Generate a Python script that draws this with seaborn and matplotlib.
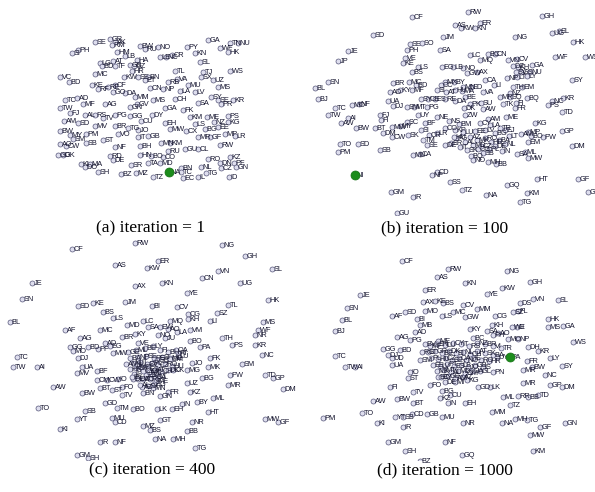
import matplotlib
matplotlib.use("Agg")
import matplotlib.pyplot as plt
import seaborn as sns
import pandas as pd

# ---------------- data (positions, panel pixel units) ----------------
labels_a = ("SE GR AK RM PH SI HM BW NO RU "
            "PY GA TN NU WF HK LB HA LE NC "
            "CR KN AT TF LG BD GB GZ SL HR "
            "TL WS TJ SX UZ VC MC KW SE BN "
            "ET VA MU RB KE BD CN NP LA LV "
            "MS RF RE CF GO DA MM CH SY SE "
            "KR MS GV AG MF TC AD TW GN SA "
            "PR GA FJ AL RS TV PG GG FK ME "
            "PS KM DY AM SD CU EH NZ KG EE "
            "LS MV BR TG JO MW CX BG BW MY "
            "PM VO GB IT MR GF MP LR SM SB "
            "ST AO CW MN KM BH RW CL GU NF "
            "RU GD GK HN BO CO DE RD RO KZ "
            "DN PF KI MA DO MD SR TA SH BN "
            "TC EC NL TG CZ GN IL ID BZ MZ TZ").split()
x_a = [95, 110, 115, 112, 78, 72, 117, 140, 158, 145,
       187, 208, 230, 238, 220, 228, 125, 137, 160, 166,
       172, 195, 113, 115, 100, 102, 130, 134, 200, 132,
       175, 230, 203, 201, 213, 60, 95, 124, 138, 148,
       145, 177, 188, 168, 92, 69, 150, 163, 180, 195,
       218, 98, 108, 115, 113, 125, 135, 175, 211, 218,
       233, 153, 137, 105, 83, 65, 77, 60, 130, 198,
       221, 165, 70, 85, 95, 103, 115, 130, 183, 207,
       228, 190, 152, 64, 78, 141, 165, 214, 228, 218,
       195, 95, 115, 128, 138, 170, 186, 205, 60, 70,
       86, 118, 148, 138, 198, 210, 225, 235, 73, 86,
       103, 60, 66, 161, 170, 140, 220, 198, 185, 115,
       168, 58, 63, 140, 151, 163, 113, 110, 208, 230,
       220, 234, 81, 90, 85, 160, 131, 148, 98, 181,
       181, 183, 201, 206, 221, 236, 198, 229, 121, 136, 153]
y_a = [42, 39, 42, 45, 50, 53, 52, 46, 47, 49,
       47, 40, 43, 43, 48, 52, 56, 60, 57, 57,
       55, 53, 61, 66, 63, 66, 65, 66, 62, 71,
       71, 71, 72, 77, 80, 77, 74, 77, 77, 77,
       80, 79, 85, 82, 85, 82, 88, 89, 91, 92,
       87, 89, 87, 85, 92, 93, 97, 99, 97, 100,
       100, 100, 104, 104, 104, 100, 98, 108, 107, 103,
       104, 108, 113, 115, 115, 118, 115, 116, 110, 117,
       116, 117, 115, 121, 123, 121, 123, 122, 122, 127,
       124, 126, 126, 128, 130, 129, 131, 129, 131, 135,
       134, 134, 136, 137, 137, 137, 134, 136, 139, 143,
       140, 144, 146, 143, 143, 146, 145, 149, 149, 147,
       151, 155, 155, 155, 156, 157, 160, 156, 159, 157,
       163, 163, 164, 164, 167, 163, 165, 163, 172, 168,
       172, 178, 167, 173, 168, 167, 177, 177, 174, 173, 177]
focus_a = ("NA", 169, 172)

labels_b = ("CF RW GH AS KW KN ER SD JM NG "
            "UG SL HK JE SE SO PH SA LC MQ "
            "BC CN VN CV WF WS JP VE KE LS "
            "BS EG LB NO AX GW GA KH DZ SV "
            "GS NU NP LT LY CA LI SN SY BR "
            "MC BD MX BY CC MN SD TH EM BL "
            "AD KY MF SI AT HU MA VA BJ SY "
            "CE ES RE DA BE PK SU MR SQ NZ "
            "BQ NC KR PS UA DJ SM MT PG MO "
            "NF TC TK FR FI TD TW DK AW UY "
            "FJ FI NE ZW ME AI AW BW BT MW "
            "MY DM CW SC BF SK SI CR LR NS "
            "BM CY LA AM KG MP PW GP TR EJ "
            "BG TO SD SB TM SE DE FG AM BO "
            "EM DM PM MU CA CG SB IN SA ML "
            "MW BQ NO MH BB CD NF SS HT GF "
            "GQ TZ GM IR NA KM TG GN GU KP "
            "LU AZ MK RO HR BA AL MD CZ PL "
            "HU IT SK DE NL LT EE LV SR CO").split()
x_b = [117, 173, 247, 160, 166, 180, 185, 78, 148, 220,
       257, 264, 278, 53, 115, 127, 112, 145, 175, 185,
       193, 200, 213, 222, 260, 290, 43, 110, 108, 123,
       117, 147, 158, 168, 182, 172, 237, 223, 218, 221,
       226, 235, 212, 222, 232, 190, 199, 33, 277, 98,
       114, 121, 150, 159, 146, 168, 176, 218, 227, 20,
       95, 105, 117, 142, 151, 160, 167, 188, 23, 126,
       133, 140, 150, 160, 170, 175, 186, 205, 215, 215,
       232, 257, 268, 253, 93, 98, 112, 119, 132, 57,
       64, 40, 208, 220, 221, 267, 33, 169, 188, 123,
       85, 86, 142, 170, 211, 53, 46, 61, 80, 97,
       105, 88, 97, 112, 130, 113, 126, 134, 142, 154,
       164, 185, 195, 193, 240, 233, 248, 267, 205, 210,
       200, 45, 63, 85, 128, 132, 150, 161, 226, 236,
       233, 277, 43, 118, 125, 183, 188, 207, 222, 230,
       233, 176, 178, 193, 201, 142, 137, 155, 242, 283,
       212, 167, 96, 118, 191, 232, 225, 293, 102, 160,
       168, 175, 182, 190, 196, 204, 170, 178, 186, 194,
       159, 165, 172, 200, 210, 214, 180, 190, 156, 150]
y_b = [17, 12, 16, 25, 28, 28, 23, 35, 37, 37,
       33, 31, 42, 51, 44, 43, 50, 50, 55, 60,
       54, 54, 60, 59, 57, 57, 61, 58, 63, 67,
       72, 67, 67, 68, 72, 73, 65, 67, 66, 72,
       72, 72, 78, 77, 76, 80, 85, 82, 80, 83,
       82, 85, 82, 82, 85, 87, 87, 87, 87, 88,
       92, 90, 90, 90, 92, 90, 91, 92, 99, 99,
       99, 99, 99, 101, 97, 104, 103, 97, 97, 93,
       98, 101, 98, 105, 101, 106, 107, 107, 107, 105,
       104, 108, 104, 108, 103, 112, 115, 108, 109, 115,
       115, 120, 117, 115, 117, 118, 123, 128, 128, 127,
       126, 133, 137, 122, 123, 135, 130, 135, 133, 121,
       124, 123, 125, 119, 123, 132, 137, 131, 128, 130,
       133, 144, 144, 150, 140, 145, 145, 138, 134, 136,
       142, 146, 152, 155, 154, 149, 153, 151, 154, 152,
       158, 156, 160, 162, 164, 172, 175, 182, 179, 179,
       185, 190, 192, 197, 195, 193, 202, 192, 213, 130,
       132, 137, 140, 138, 142, 140, 142, 145, 146, 149,
       137, 147, 150, 146, 144, 136, 131, 130, 143, 128]
focus_b = ("NI", 60, 175)

labels_c = ("CF RW NG GH AS KW ER VN SL JE "
            "AX KN CN UG YE SN SD KE JM BI "
            "CV TL HK BS CG SZ KH LS BL MD "
            "LC MQ LI MS AF MC SA EW AO LA "
            "VM WF NR AG BR KY TH BO AD VE "
            "PS KR EG PA GG MO BD PF NC TC "
            "DJ JO FK MK SM TW AI UA BF CK "
            "MG MV PW TD GP CM CW IO MR AW "
            "BT ST FO MN UZ BG DM BW TV KZ "
            "ML BY IN GD TM BO LK EH HT TO "
            "SB YT MU CD GT NR MW GF KI MZ "
            "BS BB IR NF NA MH TG GM SH NO "
            "JU DE ZC CA AZ BN FR GN RI ME "
            "GE ML BE LY FI BH QA BA NP SE "
            "PE SI OM LU AM NL IT SV PL CZ "
            "RO HU HR GR PT ES AT CH DK IS "
            "EE LV LT UA RS ME AL SK BG CY "
            "IL GB IE MT MW").split()
x_c = [72, 135, 222, 245, 115, 147, 158, 218, 272, 32,
       135, 162, 202, 240, 187, 22, 78, 93, 125, 152,
       177, 228, 268, 103, 188, 217, 188, 113, 10, 127,
       143, 170, 210, 263, 65, 100, 148, 160, 168, 177,
       190, 258, 255, 80, 122, 135, 222, 190, 105, 138,
       232, 255, 110, 200, 70, 73, 88, 98, 262, 17,
       78, 192, 210, 208, 242, 13, 37, 82, 97, 173,
       187, 77, 230, 265, 273, 97, 107, 118, 228, 53,
       100, 112, 122, 153, 187, 202, 283, 82, 122, 190,
       213, 197, 182, 105, 117, 133, 157, 172, 208, 38,
       85, 77, 112, 115, 160, 192, 265, 278, 60, 143,
       150, 187, 100, 115, 155, 173, 195, 77, 88, 158,
       165, 133, 143, 155, 142, 143, 168, 160, 178, 170,
       128, 136, 145, 153, 160, 168, 176, 130, 138, 146,
       154, 162, 170, 178, 126, 133, 140, 147, 152, 158,
       165, 172, 130, 136, 142, 148, 155, 161, 168, 134,
       146, 152, 158, 138, 150, 156, 140, 148, 154, 143,
       137, 157, 132, 149, 113]
y_c = [9, 3, 5, 16, 25, 28, 21, 31, 29, 43,
       46, 43, 38, 43, 53, 59, 66, 63, 62, 66,
       67, 65, 60, 72, 74, 73, 79, 78, 82, 85,
       81, 81, 81, 82, 90, 90, 87, 87, 89, 92,
       90, 90, 95, 98, 97, 94, 98, 101, 103, 103,
       105, 105, 106, 107, 107, 111, 107, 109, 115, 117,
       118, 123, 118, 127, 124, 127, 127, 127, 131, 130,
       130, 133, 135, 135, 138, 140, 140, 139, 145, 147,
       148, 150, 147, 148, 143, 138, 149, 153, 155, 152,
       158, 162, 164, 163, 168, 169, 169, 169, 172, 168,
       171, 179, 178, 182, 180, 182, 179, 182, 189, 186,
       190, 191, 202, 202, 199, 199, 208, 215, 218, 95,
       98, 139, 139, 137, 147, 153, 152, 156, 113, 118,
       112, 110, 108, 106, 110, 112, 110, 118, 117, 116,
       118, 117, 119, 116, 124, 123, 122, 124, 123, 125,
       124, 126, 129, 128, 127, 129, 130, 131, 130, 134,
       135, 134, 136, 139, 139, 141, 145, 146, 144, 131,
       125, 120, 137, 132, 113]

labels_d = ("CF RW AS NG KN GH ER KW YE JE "
            "VN DS SL AX KE BS CV SN AF SD "
            "MO MC MM CG SZ FL BL BI LS GW "
            "HK MS GA BJ MB AD KH WE LI KY "
            "AG PG BV SA PH AO MO NP WS GG "
            "BD DH KR TC DJ UD UA TW AI FR "
            "LY SY MR BW IO GL PN NC ST EC "
            "MR GP DM FI DE MI LK GD TV CU "
            "KZ ML RR BB TD TZ AW BW BT IN "
            "EH MU MM TO YT SB CD GB PM KI "
            "IR NR NA MH TG GF GN MW GM NF "
            "SH GQ KM BZ ME BC FO BG SM RG "
            "MF SN LU CY IT RS NZ BR VI TR "
            "LT GR BE DK SI NL CH AT SK BA "
            "PL HU CZ SE QA NO IE RO HR UY "
            "EE LV PT ES LB JO GB IS "
            "MK MT AL MD OM UA "
            "BY GE AM AZ KG").split()
x_d = [107, 153, 142, 212, 170, 235, 130, 207, 192, 65,
       238, 225, 263, 128, 140, 148, 168, 52, 97, 110,
       130, 158, 182, 200, 218, 223, 47, 122, 147, 170,
       253, 253, 268, 40, 125, 120, 197, 217, 222, 175,
       102, 115, 130, 192, 198, 203, 213, 223, 278, 88,
       105, 233, 243, 40, 93, 97, 97, 50, 60, 232,
       255, 267, 228, 237, 115, 185, 198, 250, 113, 143,
       228, 255, 267, 95, 150, 160, 195, 183, 118, 155,
       145, 208, 223, 233, 243, 215, 78, 102, 118, 153,
       170, 147, 197, 67, 100, 108, 117, 132, 28, 82,
       108, 168, 207, 220, 232, 245, 270, 235, 93, 150,
       110, 167, 238, 125, 143, 178, 135, 147, 125, 127,
       135, 142, 150, 158, 166, 174, 182, 190, 198, 206,
       133, 140, 147, 154, 161, 168, 175, 182, 190, 198,
       136, 143, 150, 157, 164, 171, 178, 186, 194, 202,
       138, 145, 152, 159, 166, 173, 180, 188,
       142, 149, 156, 163, 170, 177,
       146, 153, 160, 167, 172]
y_d = [21, 29, 37, 31, 43, 42, 50, 48, 54, 55,
       59, 63, 60, 62, 61, 63, 65, 68, 76, 72,
       71, 72, 69, 76, 72, 71, 80, 79, 76, 77,
       79, 87, 86, 91, 85, 92, 85, 87, 87, 89,
       97, 100, 104, 91, 95, 93, 99, 99, 102, 109,
       110, 107, 111, 116, 115, 118, 125, 127, 127, 121,
       118, 126, 130, 127, 132, 131, 132, 135, 138, 137,
       143, 145, 147, 147, 142, 142, 147, 147, 152, 155,
       158, 157, 156, 157, 155, 165, 161, 159, 163, 163,
       163, 177, 172, 173, 177, 177, 174, 174, 178, 183,
       187, 183, 183, 179, 180, 187, 183, 195, 202, 202,
       211, 215, 211, 221, 101, 98, 145, 151, 120, 112,
       106, 104, 105, 103, 104, 106, 103, 104, 106, 108,
       112, 111, 113, 111, 113, 112, 114, 111, 113, 115,
       118, 119, 118, 120, 118, 120, 118, 120, 121, 117,
       125, 126, 124, 126, 125, 127, 125, 127,
       131, 130, 132, 131, 133, 131,
       137, 136, 138, 137, 140]
focus_d = ("PA", 215, 117)

captions = ["(a) iteration = 1", "(b) iteration = 100",
            "(c) iteration = 400", "(d) iteration = 1000"]

# ---------------- drawing ----------------
sns.set_theme(style="white")
plt.rcParams["font.family"] = ["Liberation Sans", "DejaVu Sans"]

W, H = 595, 492
fig = plt.figure(figsize=(W / 100, H / 100), dpi=100)
fig.patch.set_facecolor("white")

def panel(x0, y0, w, h, labels, xs, ys, focus):
    assert len(labels) == len(xs) == len(ys), (len(labels), len(xs), len(ys))
    ax = fig.add_axes([x0 / W, 1 - (y0 + h) / H, w / W, h / H])
    df = pd.DataFrame({"code": labels, "x": xs, "y": ys})
    sns.scatterplot(data=df, x="x", y="y", ax=ax, s=13, color="#dedeee",
                    edgecolor="#56567a", linewidth=0.5, zorder=2, legend=False)
    for c, xx, yy in zip(df["code"], df["x"], df["y"]):
        ax.text(xx + 1.6, yy + 0.3, c, fontsize=5.3, color="#14142e",
                ha="left", va="center", zorder=3)
    if focus is not None:
        fdf = pd.DataFrame({"x": [focus[1]], "y": [focus[2]]})
        sns.scatterplot(data=fdf, x="x", y="y", ax=ax, s=42, color="#1c8c1c",
                        edgecolor="#157015", linewidth=0.5, zorder=4, legend=False)
        ax.text(focus[1] + 1.6, focus[2] + 0.3, focus[0], fontsize=5.3,
                color="#14142e", ha="left", va="center", zorder=3)
    ax.set_xlim(0, w)
    ax.set_ylim(h, 0)
    ax.axis("off")
    return ax

panel(0, 0, 297, 215, labels_a, x_a, y_a, focus_a)
panel(295, 0, 300, 215, labels_b, x_b, y_b, focus_b)
panel(0, 240, 297, 220, labels_c, x_c, y_c, None)
panel(295, 240, 300, 220, labels_d, x_d, y_d, focus_d)

cap_pos = [(150, 228), (445, 228), (152, 470), (445, 470)]
for txt, (cx, cy) in zip(captions, cap_pos):
    fig.text(cx / W, 1 - cy / H, txt, ha="center", va="center",
             fontsize=12.5, family=["Liberation Serif", "DejaVu Serif"], color="black")

fig.savefig("out.png", dpi=100, facecolor="white")
